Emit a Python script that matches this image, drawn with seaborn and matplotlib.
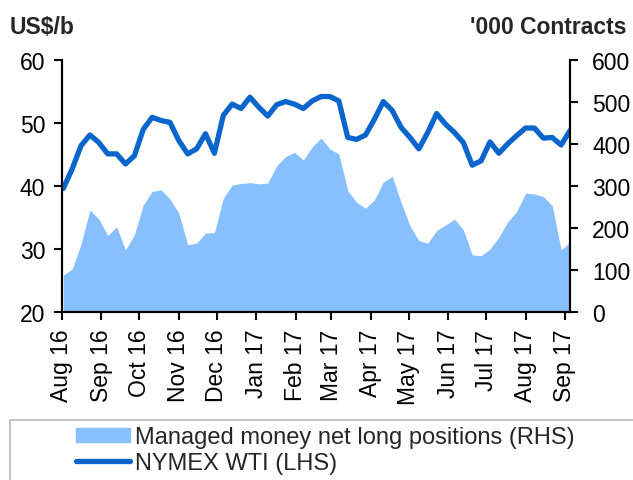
import pandas as pd
import numpy as np
import matplotlib
matplotlib.use('Agg')
import matplotlib.pyplot as plt
import matplotlib.dates as mdates
from matplotlib.patches import Rectangle, Patch
from matplotlib.lines import Line2D
import seaborn as sns

# weekly observations (Tuesdays), Aug 2016 - Sep 2017
start_date = '2016-08-02'

# NYMEX WTI, US$/b (LHS)
wti = [39.6, 42.7, 46.4, 48.1, 46.9, 45.1, 45.1, 43.5, 44.8, 49.0,
       50.9, 50.4, 50.1, 47.2, 45.1, 45.9, 48.3, 45.2, 51.2, 53.0,
       52.3, 54.1, 52.5, 51.1, 52.9, 53.4, 53.0, 52.3, 53.5, 54.2,
       54.2, 53.5, 47.7, 47.4, 48.1, 50.6, 53.4, 52.0, 49.3, 47.7,
       45.9, 48.5, 51.5, 49.8, 48.5, 46.9, 43.3, 44.0, 47.0, 45.2,
       46.7, 48.0, 49.2, 49.2, 47.6, 47.7, 46.5, 48.8]

# managed money net long positions, '000 contracts (RHS)
net_long = [88, 102, 162, 243, 221, 182, 203, 148, 184, 255,
            287, 291, 269, 235, 160, 164, 188, 189, 271, 302,
            306, 308, 305, 307, 348, 370, 380, 362, 393, 414,
            388, 376, 289, 261, 247, 267, 309, 323, 261, 205,
            170, 164, 194, 207, 221, 196, 136, 134, 150, 178,
            215, 239, 283, 281, 275, 253, 148, 166]

labels = ['Managed money net long positions (RHS)', 'NYMEX WTI (LHS)']

area_color = '#88C0FF'
line_color = '#0A66CC'

dates = pd.date_range(start_date, periods=len(wti), freq='7D')
df = pd.DataFrame({'Date': dates, 'WTI': wti, 'NetLong': net_long})

sns.set_style('white')
plt.rcParams['font.family'] = ['Liberation Sans', 'DejaVu Sans']

fig = plt.figure(figsize=(6.33, 4.81), dpi=100)
ax = fig.add_axes([62 / 633, 1 - 313 / 481, 508 / 633, 252 / 481])
ax2 = ax.twinx()

# area on the right axis, line on the left axis drawn on top
ax2.fill_between(df['Date'], df['NetLong'], color=area_color, lw=0)
sns.lineplot(data=df, x='Date', y='WTI', ax=ax, color=line_color, lw=3.8,
             solid_joinstyle='round', solid_capstyle='round')
ax.set_zorder(ax2.get_zorder() + 1)
ax.patch.set_visible(False)

ax.set_xlim(pd.Timestamp('2016-08-01'), dates[-1])
ax.set_ylim(20, 60)
ax.set_yticks(range(20, 61, 10))
ax2.set_ylim(0, 600)
ax2.set_yticks(range(0, 601, 100))
ax.set_xlabel('')
ax.set_ylabel('')

ax.xaxis.set_major_locator(mdates.MonthLocator())
ax.xaxis.set_major_formatter(mdates.DateFormatter('%b %y'))
plt.setp(ax.get_xticklabels(), rotation=90)

for a in (ax, ax2):
    a.spines['top'].set_visible(False)
    for s in ('left', 'right', 'bottom'):
        a.spines[s].set_color('black')
        a.spines[s].set_linewidth(1.5)
ax.tick_params(axis='both', left=True, bottom=True, direction='out',
               length=6, width=1.5, labelsize=16.5, colors='black', pad=6)
ax2.tick_params(axis='y', right=True, direction='out', length=6, width=1.5,
                labelsize=16.5, colors='black', pad=10)

fig.text(10 / 633, 1 - 34 / 481, 'US$/b', fontsize=16.5, fontweight='bold')
fig.text(626 / 633, 1 - 34 / 481, "'000 Contracts", fontsize=16.5,
         fontweight='bold', ha='right')

# legend box running off the figure edge
fig.add_artist(Rectangle((10 / 633, -0.1), 1.0, 0.1 + 1 - 421 / 481,
                         transform=fig.transFigure, fill=False,
                         edgecolor='#BBBBBB', lw=1.2, clip_on=False))
handles = [Patch(color=area_color),
           Line2D([], [], color=line_color, lw=3.8, solid_capstyle='round')]
fig.legend(handles, labels, loc='upper left',
           bbox_to_anchor=(76 / 633, 1 - 427 / 481), frameon=False,
           fontsize=17, handlelength=2.3, handleheight=0.55,
           handletextpad=0.2, labelspacing=0.15, borderpad=0,
           borderaxespad=0)

fig.savefig('out.png', dpi=100)
